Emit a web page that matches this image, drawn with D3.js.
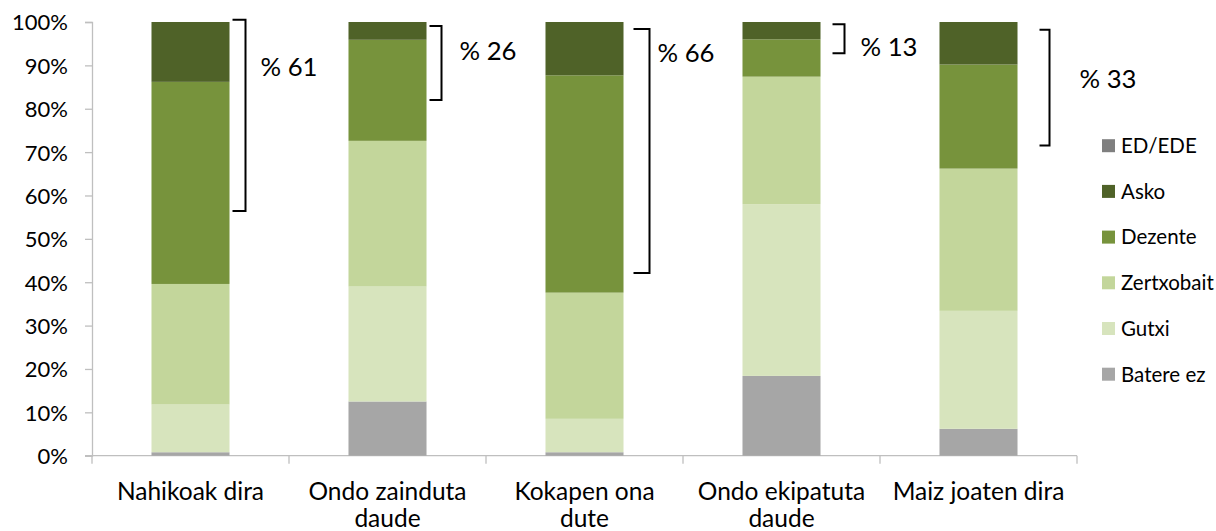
<!DOCTYPE html>
<html lang="eu">
<head>
<meta charset="utf-8" />
<title>Stacked bars</title>
<script src="https://cdn.jsdelivr.net/npm/d3@7"></script>
<style>
    body { margin: 0; background: #fff; }
    text { font-family: Lato, "Open Sans", sans-serif; fill: #000; }
</style>
</head>
<body>
<svg id="chart" width="1216" height="531"></svg>
<script>
    // categories (x axis), two-line labels
    var categories = ["Nahikoak dira", "Ondo zainduta daude", "Kokapen ona dute", "Ondo ekipatuta daude", "Maiz joaten dira"];
    var categoryLines = [["Nahikoak dira"], ["Ondo zainduta", "daude"], ["Kokapen ona", "dute"], ["Ondo ekipatuta", "daude"], ["Maiz joaten dira"]];

    // series, bottom to top (percent)
    var batereEz = [0.8, 12.5, 0.8, 18.4, 6.2];
    var gutxi = [11.0, 26.5, 7.7, 39.6, 27.2];
    var zertxobait = [27.8, 33.6, 29.1, 29.4, 32.8];
    var dezente = [46.6, 23.3, 50.1, 8.6, 24.0];
    var asko = [13.8, 4.1, 12.3, 4.0, 9.8];
    var edEde = [0, 0, 0, 0, 0];

    var yTicks = [0, 10, 20, 30, 40, 50, 60, 70, 80, 90, 100];

    // bracket annotations: label and the span it covers (percent)
    var bracketLabels = ["% 61", "% 26", "% 66", "% 13", "% 33"];
    var bracketTop = [100.5, 99.1, 98.4, 99.5, 98.2];
    var bracketBottom = [56.4, 82.0, 42.1, 92.8, 71.5];

    var seriesNames = ["Batere ez", "Gutxi", "Zertxobait", "Dezente", "Asko", "ED/EDE"];
    var seriesData = [batereEz, gutxi, zertxobait, dezente, asko, edEde];
    var colors = ["#a6a6a6", "#d7e4bd", "#c3d69b", "#77933c", "#4f6228", "#7f7f7f"];

    // bracket geometry (pixels from bar right edge), label offsets
    var bracketGap = [3, 3, 10, 12, 22];
    var bracketArm = [13, 12, 16, 12, 10];
    var labelGap = [15, 18, 8, 16, 30];
    var labelBase = [76, 60, 62.3, 56, 88.3];

    var margin = { left: 92, top: 22 };
    var width = 985, height = 433.7;

    var svg = d3.select("#chart");
    var g = svg.append("g").attr("transform", "translate(" + margin.left + "," + margin.top + ")");

    var x = d3.scaleBand().domain(categories).range([0, width]).paddingInner(0.604).paddingOuter(0.302);
    var y = d3.scaleLinear().domain([0, 100]).range([height, 0]);

    // table for the stack
    var table = categories.map(function (c, i) {
        var row = { cat: c };
        seriesNames.forEach(function (s, j) { row[s] = seriesData[j][i]; });
        return row;
    });
    var stacked = d3.stack().keys(seriesNames)(table);

    // axes
    var axisColor = "#bfbfbf";
    var yAxis = g.append("g").call(d3.axisLeft(y).tickValues(yTicks).tickSize(7).tickPadding(18).tickFormat(function (d) { return d + "%"; }));
    yAxis.select(".domain").attr("stroke", axisColor).attr("stroke-width", 1.3);
    yAxis.selectAll(".tick line").attr("stroke", axisColor).attr("stroke-width", 1.3);
    yAxis.selectAll(".tick text").attr("font-size", "22px").attr("font-family", "Lato").attr("fill", "#000").attr("dy", "0.36em").attr("dx", "1px");

    // x axis line and band boundary ticks
    g.append("line").attr("x1", -7).attr("x2", width).attr("y1", height).attr("y2", height)
        .attr("stroke", axisColor).attr("stroke-width", 1.3);
    var bounds = d3.range(categories.length + 1).map(function (i) { return i * x.step(); });
    g.selectAll(".xtick").data(bounds).enter().append("line")
        .attr("x1", function (d) { return d; }).attr("x2", function (d) { return d; })
        .attr("y1", height).attr("y2", height + 8)
        .attr("stroke", axisColor).attr("stroke-width", 1.3);

    // bars
    g.selectAll(".series").data(stacked).enter().append("g")
        .attr("fill", function (d, i) { return colors[i]; })
        .selectAll("rect").data(function (d) { return d; }).enter().append("rect")
        .attr("x", function (d) { return x(d.data.cat); })
        .attr("width", x.bandwidth())
        .attr("y", function (d) { return y(d[1]); })
        .attr("height", function (d) { return Math.max(0, y(d[0]) - y(d[1])); });

    // category labels
    categories.forEach(function (c, i) {
        var t = g.append("text").attr("text-anchor", "middle").attr("font-size", "24.5px")
            .attr("x", x(c) + x.bandwidth() / 2).attr("y", height + 44);
        categoryLines[i].forEach(function (line, k) {
            t.append("tspan").attr("x", x(c) + x.bandwidth() / 2).attr("dy", k === 0 ? 0 : 27).text(line);
        });
    });

    // brackets
    categories.forEach(function (c, i) {
        var xv = x(c) + x.bandwidth() + bracketGap[i] + bracketArm[i];
        var x0 = xv - bracketArm[i];
        var y0 = y(bracketTop[i]), y1 = y(bracketBottom[i]);
        g.append("path")
            .attr("d", "M" + x0 + "," + y0 + "H" + xv + "V" + y1 + "H" + x0)
            .attr("fill", "none").attr("stroke", "#000").attr("stroke-width", 2);
        svg.append("text").attr("font-size", "25.7px")
            .attr("x", margin.left + xv + labelGap[i]).attr("y", labelBase[i])
            .text(bracketLabels[i]);
    });

    // legend, top to bottom
    var legendOrder = [5, 4, 3, 2, 1, 0];
    var legend = svg.append("g").attr("transform", "translate(1102,145.7)");
    legendOrder.forEach(function (si, k) {
        var row = legend.append("g").attr("transform", "translate(0," + (k * 45.7) + ")");
        row.append("rect").attr("x", 0).attr("y", -6.5).attr("width", 13).attr("height", 13).attr("fill", colors[si]);
        row.append("text").attr("x", 19).attr("y", 0).attr("dy", "0.36em").attr("font-size", "20.5px").text(seriesNames[si]);
    });
</script>
</body>
</html>
